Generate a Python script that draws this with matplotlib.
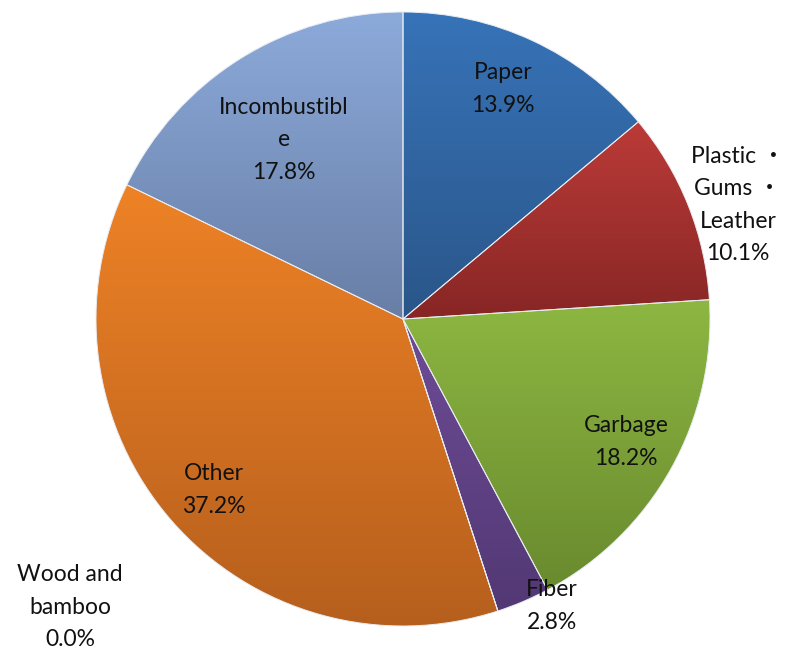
import numpy as np
import matplotlib
matplotlib.use('Agg')
from matplotlib import pyplot as plt
from matplotlib.colors import LinearSegmentedColormap

# waste composition, clockwise from 12 o'clock
categories = ['Paper', 'Plastic ・\nGums ・\nLeather', 'Garbage', 'Fiber',
              'Wood and\nbamboo', 'Other', 'Incombustibl\ne']
shares = [13.9, 10.1, 18.2, 2.8, 0.0, 37.2, 17.8]

# (top colour, bottom colour) for each slice's vertical gradient
grad_colors = [('#3773b8', '#2a5689'),
               ('#bb3b38', '#872625'),
               ('#8db742', '#698a2e'),
               ('#6e4c96', '#523874'),
               ('#4bacc6', '#357d91'),
               ('#ee8226', '#b65f1d'),
               ('#8caada', '#687ea6')]

# label anchor points (pixel coords, y measured from top)
label_pos = [(503, 89), (738, 205), (626, 442), (552, 606),
             (70, 607), (214, 490), (284, 140)]

W, H = 789, 651
fig = plt.figure(figsize=(W / 100, H / 100), dpi=100)
ax = fig.add_axes([0, 0, 1, 1])
ax.set_xlim(0, W)
ax.set_ylim(0, H)
ax.set_aspect('equal')
ax.axis('off')

cx, cy, r = 403, H - 319, 307
wedges, _ = ax.pie(shares, startangle=90, counterclock=False, radius=r,
                   center=(cx, cy), frame=True,
                   wedgeprops=dict(edgecolor='#e8ecf2', linewidth=0.7))

grad = np.linspace(0, 1, 256).reshape(-1, 1)
for w, (top, bot) in zip(wedges, grad_colors):
    ext = w.get_path().get_extents()
    if ext.height < 1e-6 or ext.width < 1e-6:
        continue
    cmap = LinearSegmentedColormap.from_list('g', [bot, top])
    im = ax.imshow(grad, cmap=cmap, origin='lower', aspect='auto',
                   extent=(ext.x0, ext.x1, ext.y0, ext.y1), zorder=1.5,
                   interpolation='bilinear')
    im.set_clip_path(w)
    w.set_facecolor('none')
    w.set_zorder(2)

ax.set_xlim(0, W)
ax.set_ylim(0, H)
ax.axis('off')

for name, val, (x, y) in zip(categories, shares, label_pos):
    ax.text(x, H - y, f'{name}\n{val:.1f}%', ha='center', va='center',
            fontsize=16.5, linespacing=1.66, color='#111111',
            family=['Lato', 'Noto Sans CJK JP'], zorder=3)

fig.savefig('out.png', dpi=100, facecolor='white')
